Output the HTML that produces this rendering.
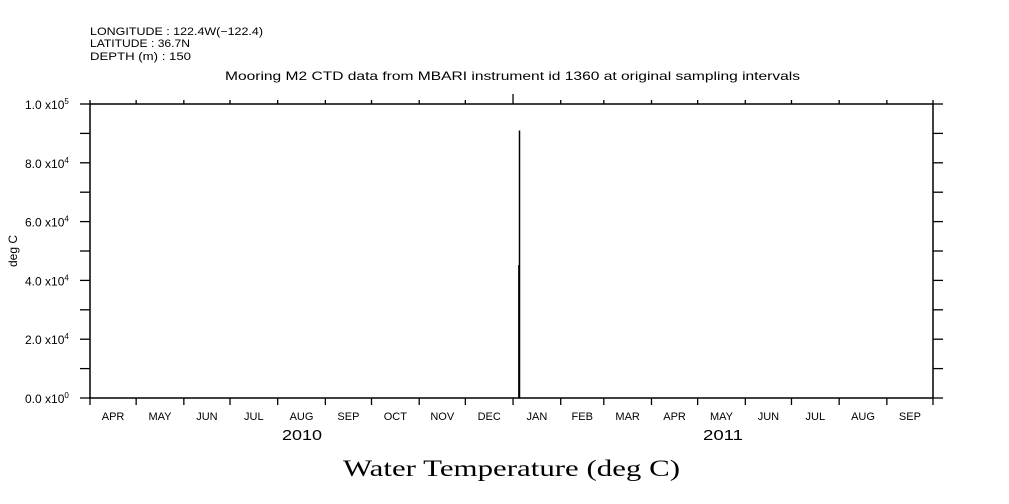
<!DOCTYPE html>
<html><head><meta charset="utf-8"><style>
body{margin:0;background:#fff;}
svg{display:block;font-family:"Liberation Sans",sans-serif;}
</style></head><body>
<svg id="c" width="1009" height="504">
<g font-size="11" fill="#000">
<text x="90" y="35" textLength="173" lengthAdjust="spacingAndGlyphs">LONGITUDE : 122.4W(−122.4)</text>
<text x="90" y="47" textLength="100" lengthAdjust="spacingAndGlyphs">LATITUDE : 36.7N</text>
<text x="90" y="60" textLength="101" lengthAdjust="spacingAndGlyphs">DEPTH (m) : 150</text>
<text x="225" y="80" textLength="575" lengthAdjust="spacingAndGlyphs" font-size="12">Mooring M2 CTD data from MBARI instrument id 1360 at original sampling intervals</text>
<text x="17" y="251" transform="rotate(-90 17 251)" text-anchor="middle" font-size="12">deg C</text>
<text x="282" y="440" textLength="40" lengthAdjust="spacingAndGlyphs" font-size="15">2010</text>
<text x="703" y="440" textLength="40" lengthAdjust="spacingAndGlyphs" font-size="15">2011</text>
<text x="343" y="476" textLength="337" lengthAdjust="spacingAndGlyphs" font-size="23" font-family="Liberation Serif, serif">Water Temperature (deg C)</text>
</g>
<rect x="90" y="104" width="843" height="294" fill="none" stroke="#000" stroke-width="1.5"/>
<g id="ax"></g>
<g id="marks"></g>
</svg>
<script>
const monthLabels=["APR","MAY","JUN","JUL","AUG","SEP","OCT","NOV","DEC","JAN","FEB","MAR","APR","MAY","JUN","JUL","AUG","SEP"];
const monthDays=[30,31,30,31,31,30,31,30,31,31,28,31,30,31,30,31,31,30];
const yTicks=[0,20000,40000,60000,80000,100000];
const yTickLabels=["0.0 x10|0","2.0 x10|4","4.0 x10|4","6.0 x10|4","8.0 x10|4","1.0 x10|5"];
const sampleDays=[278.8,278.8,279.2,279.2,279.2];
const sampleValues=[0,45000,45000,91000,0];
const X0=90,X1=933,Y0=398,Y1=104;
const total=monthDays.reduce((a,b)=>a+b,0);
const xs=d=>X0+(X1-X0)*d/total;
const ys=v=>Y0-(Y0-Y1)*v/100000;
const NS="http://www.w3.org/2000/svg";
const ax=document.getElementById('ax'),mk=document.getElementById('marks');
function ln(g,x1,y1,x2,y2,w){const l=document.createElementNS(NS,'line');l.setAttribute('x1',x1);l.setAttribute('y1',y1);l.setAttribute('x2',x2);l.setAttribute('y2',y2);l.setAttribute('stroke','#000');l.setAttribute('stroke-width',w||1.3);g.appendChild(l);return l;}
let d=0;
for(let i=0;i<=monthDays.length;i++){
 const x=xs(d);
 const big=(i===9);
 const t1=ln(ax,x,Y0,x,Y0+7);
 
 
 const t2=ln(ax,x,Y1,x,Y1-(big?10:4));
 
 
 if(i<monthDays.length){
  const xm=xs(d+monthDays[i]/2);
  const t=document.createElementNS(NS,'text');t.setAttribute('x',xm);t.setAttribute('y',Y0+22);t.setAttribute('text-anchor','middle');t.setAttribute('font-size','11');t.textContent=monthLabels[i];
  
  
  ax.appendChild(t);
  d+=monthDays[i];
 }
}
for(let v=0;v<=100000;v+=10000){
 const y=ys(v);
 const a=ln(ax,X0-10,y,X0,y);
 
 
 const b=ln(ax,X1,y,X1+10,y);
 
 
}
yTicks.forEach((v,i)=>{
 const [m,e]=yTickLabels[i].split('|');
 const t=document.createElementNS(NS,'text');t.setAttribute('x',25);t.setAttribute('y',ys(v)+5);t.setAttribute('font-size','12');
 t.innerHTML=m+'<tspan dy="-5" font-size="8">'+e+'</tspan>';
 
 
 ax.appendChild(t);
});
const p=document.createElementNS(NS,'polyline');
p.setAttribute('points',sampleDays.map((dd,i)=>xs(dd)+','+ys(sampleValues[i])).join(' '));
p.setAttribute('fill','none');p.setAttribute('stroke','#000');p.setAttribute('stroke-width','1.5');


mk.appendChild(p);
</script>
</body></html>
